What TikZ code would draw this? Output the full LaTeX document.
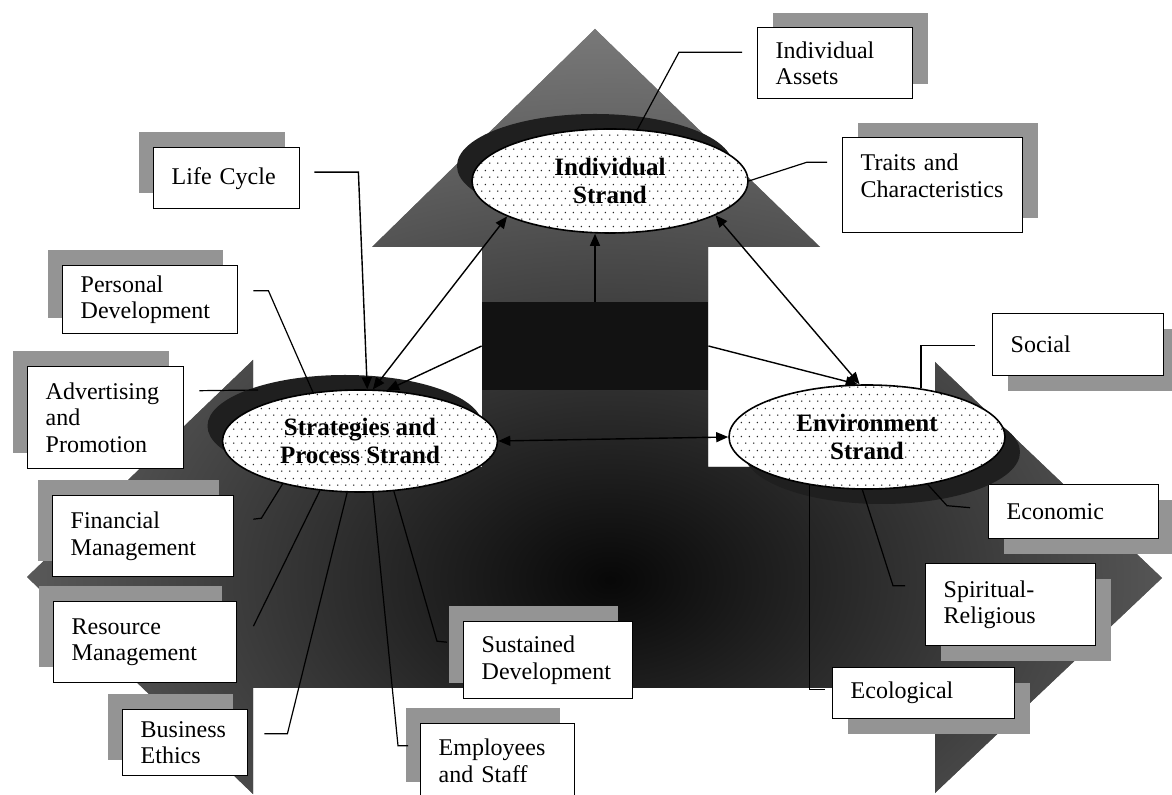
\documentclass[tikz,border=0pt]{standalone}
\usepackage{fontspec}
\setmainfont{Liberation Serif}
\usetikzlibrary{arrows.meta,shapes.geometric,shadows,patterns.meta,calc}

\tikzdeclarepattern{
  name=ovaldots,
  type=uncolored,
  bounding box={(0pt,0pt) and (4pt,7pt)},
  tile size={(4pt,7pt)},
  code={
    \fill (1pt,1pt) circle (0.45pt);
    \fill (3pt,4.5pt) circle (0.45pt);
  }
}

\newcommand{\BGarrowpath}{(595,29) -- (820,247) -- (708,247) -- (708,467) -- (935,467) -- (935,362) -- (1162,578) -- (935,793) -- (935,688) -- (253,688) -- (253,794) -- (27,577) -- (253,360) -- (253,467) -- (482,467) -- (482,247) -- (372,247) -- cycle}

\begin{document}
\begin{tikzpicture}[x=0.5pt,y=-0.5pt,
  every node/.style={font=\fontsize{12}{13.3}\selectfont},
  tbox/.style n args={2}{draw=black, line width=0.7pt, fill=white, anchor=north west,
     align=left, inner xsep=9pt, inner ysep=0pt, text width=#1, minimum height=#2},
  shUL/.style={general shadow={fill=black!42, shadow xshift=-7.5pt, shadow yshift=8pt}},
  shUR/.style={general shadow={fill=black!42, shadow xshift=7.5pt, shadow yshift=7.5pt}},
  shDR/.style={general shadow={fill=black!42, shadow xshift=7.5pt, shadow yshift=-7.5pt}},
  strand/.style={ellipse, draw=black, line width=0.8pt, fill=white,
     postaction={pattern=ovaldots, pattern color=black!85},
     inner sep=0pt, align=center, minimum width=138pt, minimum height=52pt,
     font=\bfseries\fontsize{12.5}{14}\selectfont},
  eshUL/.style={general shadow={fill=black!88, shadow xshift=-7.5pt, shadow yshift=7.5pt}},
  eshDR/.style={general shadow={fill=black!88, shadow xshift=7.5pt, shadow yshift=-7.5pt}},
  con/.style={line width=0.6pt},
  arr/.style={line width=0.7pt, -{Triangle[length=6pt,width=5pt]}},
  arrs/.style={line width=0.7pt, {Triangle[length=6pt,width=5pt]}-{Triangle[length=6pt,width=5pt]}}
]
\useasboundingbox (0,0) rectangle (1172,795);
\fill[white] (0,0) rectangle (1172,795);

% background arrows
\fill[black!55] \BGarrowpath;
\begin{scope}
  \clip \BGarrowpath;
  \shade[inner color=black!97, outer color=black!52] (610,580) ellipse (820 and 560);
\end{scope}

% central dark block
\node[fill=black!93, minimum width=113pt, minimum height=44pt, inner sep=0pt] (core) at (595,346) {};

% text boxes
\node[tbox={55pt}{30.5pt}, shUL] (lc) at (153,147) {Life Cycle};
\node[tbox={69.5pt}{34pt}, shUL] (pd) at (62,265) {Personal\\Development};
\node[tbox={60pt}{51pt}, shUL] (ap) at (27,366) {Advertising\\and\\Promotion};
\node[tbox={72.5pt}{40.5pt}, shUL] (fm) at (52,495) {Financial\\Management};
\node[tbox={73.5pt}{40.5pt}, shUL] (rm) at (53,601) {Resource\\Management};
\node[tbox={44.5pt}{33pt}, shUL] (be) at (122,709) {Business\\Ethics};
\node[tbox={66.5pt}{38.5pt}, shUL] (sd) at (463,621) {Sustained\\Development};
\node[tbox={59pt}{37pt}, shUL] (es) at (420,723) {Employees\\and Staff};
\node[tbox={59.5pt}{35.5pt}, shUR] (ia) at (757,27) {Individual\\Assets};
\node[tbox={72pt}{47.5pt}, shUR] (tc) at (842,137) {Traits and\\Characteristics\\[-4pt]\mbox{}};
\node[tbox={67.5pt}{31pt}, shDR] (soc) at (992,313) {Social};
\node[tbox={67pt}{27pt}, shDR] (eco) at (988,484) {Economic};
\node[tbox={67pt}{41pt}, shDR] (sr) at (925,563) {Spiritual-\\Religious};
\node[tbox={73pt}{25.5pt}, shDR] (ecl) at (832,667) {Ecological};

% strands
\node[strand, eshUL] (i) at (610,181) {Individual\\Strand};
\node[strand, eshUL, minimum width=137.5pt, minimum height=51pt] (s) at (360,441) {Strategies and\\Process Strand};
\node[strand, eshDR] (e) at (867,437) {Environment\\Strand};

% arrows between strands
\draw[arrs] (s.east) -- (e.west);
\draw[arrs] (s.76) -- (i.199);
\draw[arrs] (i.342) -- (e.98);
\draw[arr] (core.north) -- (core.north |- i.south);
\draw[arr] (core.west) -- (s.62);
\draw[arr] (core.east) -- (e.100);

% box connectors
\coordinate (apEnd) at (258,390);
\draw[arr] ($(lc.east)+(14,-6)$) -- ++(44,0) -- (s.82);
\draw[con] ($(pd.east)+(15,-9)$) -- ++(15,0) -- (s.134);
\draw[con] ($(ap.east)+(15,-27)$) -- (apEnd);
\draw[con] ($(fm.east)+(19,-17)$) -- ++(8,-1) -- (s.209);
\draw[con] ($(rm.east)+(16,-16)$) -- (s.231);
\draw[con] ($(be.east)+(16,-9)$) -- ++(23,0) -- (s.256);
\draw[con] ($(es.west)+(-12,-15)$) -- ++(-10,0) -- (s.284);
\draw[con] ($(sd.west)+(-16,-18)$) -- ++(-10,-1) -- (s.304);
\draw[con] ($(soc.west)+(-17,1)$) -| (e.42);
\draw[con] ($(eco.west)+(-18,-4)$) -- ++(-23,-2) -- (e.322);
\draw[con] ($(sr.west)+(-20,-19)$) -- ++(-12,0) -- (e.265);
\draw[con] ($(ecl.west)+(-7,-4)$) -| (e.220);
\draw[con] ($(ia.west)+(-15,-11)$) -- ++(-63,0) -- (i.62);
\draw[con] ($(tc.west)+(-15,-23)$) -- ++(-20,0) -- (i.east);
\end{tikzpicture}
\end{document}
